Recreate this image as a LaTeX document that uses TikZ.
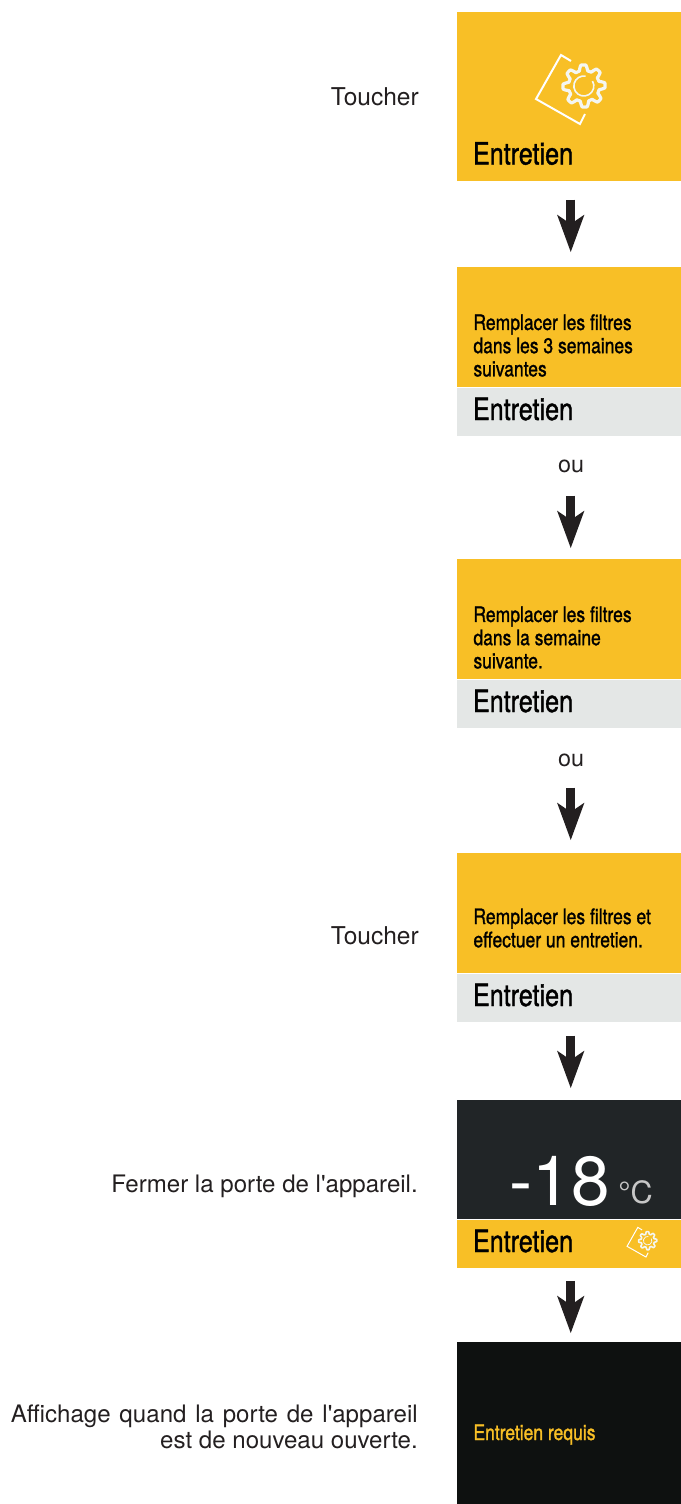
\documentclass[tikz,border=0pt]{standalone}
\usepackage{fontspec}
\setmainfont{TeX Gyre Heros}
\newfontfamily\panelfont[FakeStretch=0.82,FakeBold=1.2]{TeX Gyre Heros}
\usepackage{xcolor}
\usetikzlibrary{arrows.meta, positioning}
\definecolor{panelyellow}{HTML}{F8BF26}
\definecolor{panelgray}{HTML}{E4E7E6}
\definecolor{paneldark}{HTML}{212527}
\definecolor{panelblack}{HTML}{0E1110}
\definecolor{inkdark}{HTML}{231F20}
\definecolor{geargray}{HTML}{F4F6F2}

\begin{document}
\begin{tikzpicture}[
    x=0.75pt, y=-0.75pt,
    panel/.style={rectangle, inner sep=0pt, minimum width=168pt, fill=#1},
    step label/.style={font=\fontsize{18.05}{19.5}\selectfont, text=inkdark, align=right, inner sep=0pt},
    or label/.style={font=\fontsize{17.5}{19}\selectfont, text=inkdark, inner sep=0pt},
    title/.style={font=\panelfont\fontsize{23}{24}\selectfont, text=black, inner sep=0pt, anchor=base west},
    message/.style={font=\panelfont\fontsize{16}{17.4}\selectfont, text=black, align=left, inner sep=0pt, anchor=west},
    flow/.style={draw=inkdark, line width=6.4pt, -{Stealth[length=28pt, width=20.5pt, inset=7pt, line width=0pt]}},
    gearicon/.pic={
        \draw[line width=#1, geargray, line join=round] plot[samples=192, domain=0:358.125]
            ({(18.3+2.8*max(-1,min(1,1.7*cos(8*\x+15))))*cos(\x)}, {(18.3+2.8*max(-1,min(1,1.7*cos(8*\x+15))))*sin(\x)}) -- cycle;
        \draw[line width=#1*0.5, geargray] (8.5,-5) arc (-30:280:10);
        \draw[line width=#1*0.62, white] (-13,-25) -- (-23,-31) -- (-48,13) -- (-4,38) -- (1,28);
    }
]
\useasboundingbox (0,0) rectangle (681,1504);

% Panels
\node[panel=panelyellow, minimum height=126.75pt, anchor=north west] (menu) at (457,12) {};

\node[panel=panelyellow, minimum height=90pt, anchor=north west] (weeks) at (457,267) {};
\node[panel=panelgray, minimum height=36.5pt, below=0pt of weeks] (weeksbar) {};

\node[panel=panelyellow, minimum height=90pt, anchor=north west] (week) at (457,559) {};
\node[panel=panelgray, minimum height=36.5pt, below=0pt of week] (weekbar) {};

\node[panel=panelyellow, minimum height=90pt, anchor=north west] (now) at (457,853) {};
\node[panel=panelgray, minimum height=36.5pt, below=0pt of now] (nowbar) {};

\node[panel=paneldark, minimum height=89.25pt, anchor=north west] (temp) at (457,1100) {};
\node[panel=panelyellow, minimum height=36.5pt, below=0pt of temp] (tempbar) {};

\node[panel=panelblack, minimum height=121.5pt, anchor=north west] (open) at (457,1342) {};

% Panel texts
\node[title] (menutitle) at (472.7,164.5) {Entretien};
\node[message] (weekstext) at (473.2,345.5) {Remplacer les filtres\\dans les 3 semaines\\suivantes};
\node[title] (weekstitle) at (472.7,420) {Entretien};
\node[message] (weektext) at (473.2,637.5) {Remplacer les filtres\\dans la semaine\\suivante.};
\node[title] (weektitle) at (472.7,712) {Entretien};
\node[message] (nowtext) at (473.2,928) {Remplacer les filtres et\\effectuer un entretien.};
\node[title] (nowtitle) at (472.7,1006) {Entretien};
\node[title] (temptitle) at (472.7,1252) {Entretien};
\node[font=\fontsize{52}{52}\selectfont, text=white, inner sep=0pt, anchor=base east] (tempvalue) at (610,1205) {-18};
\node[font=\fontsize{23}{23}\selectfont, text=white!78!black, inner sep=0pt, anchor=base east] (tempunit) at (653,1203) {°C};
\node[message, anchor=base west, text=panelyellow] (opentext) at (473.2,1440) {Entretien requis};

% Icons
\pic at (584,86) {gearicon=2.4pt};
\pic[scale=0.43] at (647.7,1240.7) {gearicon=1.2pt};

% Left labels
\node[step label, font=\fontsize{18.4}{19.5}\selectfont, anchor=base east] (touch1) at (419,105) {Toucher};
\node[step label, font=\fontsize{18.4}{19.5}\selectfont, anchor=base east] (touch2) at (419,944) {Toucher};
\node[step label, anchor=base east] (close) at (418,1192) {Fermer la porte de l\textquotesingle appareil.};
\node[step label, anchor=east] (reopen) at (418,1427) {{\spaceskip=6.6pt Affichage quand la porte de l\textquotesingle appareil}\\est de nouveau ouverte.};

% ou labels
\node[or label, anchor=base] (or1) at (571,472) {ou};
\node[or label, anchor=base] (or2) at (571,766) {ou};

% Arrows between panels
\draw[flow, shorten <=13.5pt, shorten >=11.25pt] ([xshift=1.1pt]menu.south) -- ([xshift=1.1pt]weeks.north);
\draw[flow, shorten <=44.25pt, shorten >=8.25pt] ([xshift=1.1pt]weeksbar.south) -- ([xshift=1.1pt]week.north);
\draw[flow, shorten <=44.25pt, shorten >=9.75pt] ([xshift=1.1pt]weekbar.south) -- ([xshift=1.1pt]now.north);
\draw[flow, shorten <=9.75pt, shorten >=9pt] ([xshift=1.1pt]nowbar.south) -- ([xshift=1.1pt]temp.north);
\draw[flow, shorten <=9pt, shorten >=6.75pt] ([xshift=1.1pt]tempbar.south) -- ([xshift=1.1pt]open.north);
\end{tikzpicture}
\end{document}
